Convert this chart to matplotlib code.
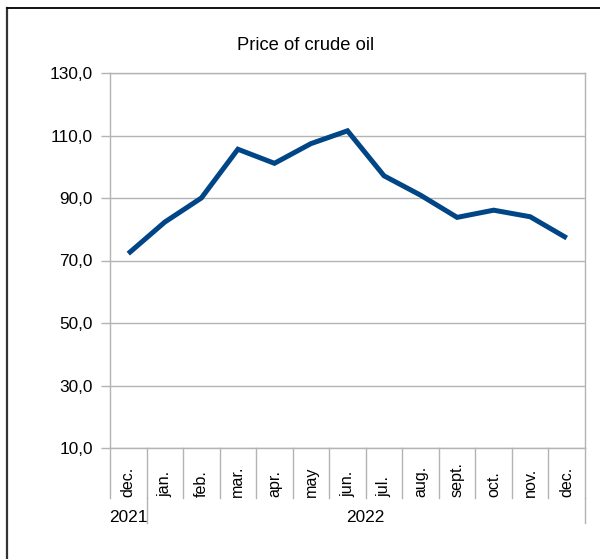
import matplotlib
matplotlib.use("Agg")
import matplotlib.pyplot as plt
from matplotlib.lines import Line2D
import matplotlib.transforms as mtransforms

months = ['dec.', 'jan.', 'feb.', 'mar.', 'apr.', 'may', 'jun.', 'jul.',
          'aug.', 'sept.', 'oct.', 'nov.', 'dec.']
prices = [72.2, 82.3, 90.0, 105.6, 101.1, 107.4, 111.5, 97.1,
          90.9, 83.8, 86.1, 84.0, 77.2]
years = ['2021', '2022']
year_counts = [1, 12]
yticks = [10, 30, 50, 70, 90, 110, 130]
title = 'Price of crude oil'

plt.rcParams['font.family'] = ['Liberation Sans', 'DejaVu Sans']

W, H = 600, 559
fig = plt.figure(figsize=(W / 100, H / 100), dpi=100)
ax = fig.add_axes([110 / W, 1 - 448 / H, 475 / W, 375 / H])

grid_c = '#b3b3b3'
x = list(range(len(months)))
ax.plot(x, prices, color='#004586', lw=3.6, solid_capstyle='butt',
        solid_joinstyle='miter', zorder=3)

ax.set_xlim(-0.5, len(months) - 0.5)
ax.set_ylim(10, 130)
ax.set_yticks(yticks)
ax.set_yticklabels([f"{v:.1f}".replace('.', ',') for v in yticks], fontsize=12.4)
ax.yaxis.grid(True, color=grid_c, lw=1)
ax.set_axisbelow(True)
ax.tick_params(axis='y', length=6.5, width=1, color=grid_c, pad=6, labelcolor='black')
ax.set_xticks([])
for s in ax.spines.values():
    s.set_color(grid_c)
    s.set_linewidth(1)

# category separators and labels below the axis
trans = mtransforms.blended_transform_factory(ax.transData, fig.transFigure)
y_axis_bottom = 1 - 448 / H
y_sep = 1 - 498 / H
y_year_sep = 1 - 523 / H
for i in range(len(months) + 1):
    xs = i - 0.5
    ax.add_line(Line2D([xs, xs], [y_axis_bottom, y_sep], transform=trans,
                       color=grid_c, lw=1, clip_on=False))
for i, m in enumerate(months):
    fig.text(i, 1 - 497 / H, m, transform=trans, rotation=90,
             ha='center', va='bottom', fontsize=11.6)

start = 0
for yr, cnt in zip(years, year_counts):
    end = start + cnt
    xe = end - 0.5
    ax.add_line(Line2D([xe, xe], [y_sep, y_year_sep], transform=trans,
                       color=grid_c, lw=1, clip_on=False))
    fig.text((start + end - 1) / 2, 1 - 517 / H, yr, transform=trans,
             ha='center', va='center', fontsize=12.4)
    start = end

fig.text(306 / W, 1 - 45 / H, title, ha='center', va='center', fontsize=13.2)

# outer frame
fig.add_artist(Line2D([7 / W, 7 / W], [0, 1 - 8 / H], transform=fig.transFigure,
                      color='#333333', lw=1.6))
fig.add_artist(Line2D([7 / W, 1], [1 - 8 / H, 1 - 8 / H], transform=fig.transFigure,
                      color='#111111', lw=1.4))

fig.savefig('out.png', dpi=100)
